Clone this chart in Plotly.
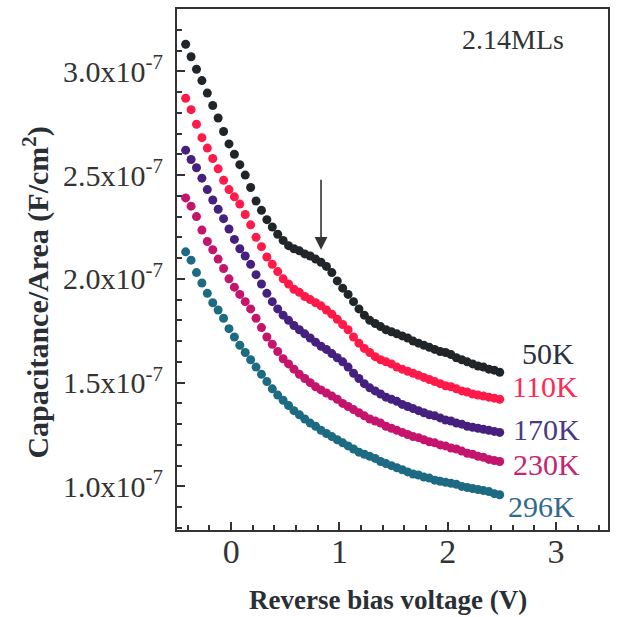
import plotly.graph_objects as go

# Reverse bias voltage (V)
voltage = [-0.42, -0.37, -0.32, -0.27, -0.22, -0.17, -0.12, -0.07, -0.02, 0.03,
           0.08, 0.13, 0.18, 0.23, 0.28, 0.33, 0.38, 0.43, 0.48, 0.53,
           0.58, 0.63, 0.68, 0.73, 0.78, 0.83, 0.88, 0.93, 0.98, 1.03,
           1.08, 1.13, 1.18, 1.23, 1.28, 1.33, 1.38, 1.43, 1.48, 1.53,
           1.58, 1.63, 1.68, 1.73, 1.78, 1.83, 1.88, 1.93, 1.98, 2.03,
           2.08, 2.13, 2.18, 2.23, 2.28, 2.33, 2.38, 2.43, 2.48]

# Capacitance/Area in units of 1e-7 F/cm^2
c_50K = [3.13, 3.07, 3.01, 2.955, 2.895, 2.835, 2.775, 2.71, 2.65, 2.60,
         2.55, 2.50, 2.44, 2.375, 2.33, 2.285, 2.25, 2.215, 2.185, 2.16,
         2.145, 2.135, 2.12, 2.11, 2.095, 2.08, 2.06, 2.03, 1.99, 1.955,
         1.925, 1.89, 1.855, 1.825, 1.80, 1.785, 1.77, 1.755, 1.745, 1.735,
         1.725, 1.715, 1.70, 1.69, 1.68, 1.67, 1.66, 1.65, 1.645, 1.635,
         1.62, 1.61, 1.60, 1.59, 1.58, 1.575, 1.565, 1.56, 1.55]
c_110K = [2.87, 2.815, 2.745, 2.68, 2.63, 2.58, 2.53, 2.475, 2.43, 2.395,
          2.36, 2.31, 2.26, 2.20, 2.155, 2.105, 2.07, 2.035, 2.00, 1.975,
          1.95, 1.935, 1.915, 1.90, 1.885, 1.87, 1.85, 1.83, 1.805, 1.78,
          1.755, 1.72, 1.69, 1.665, 1.645, 1.625, 1.61, 1.60, 1.59, 1.575,
          1.565, 1.555, 1.545, 1.535, 1.525, 1.515, 1.505, 1.495, 1.485, 1.48,
          1.47, 1.46, 1.455, 1.445, 1.44, 1.435, 1.43, 1.425, 1.42]
c_170K = [2.62, 2.575, 2.535, 2.485, 2.43, 2.38, 2.335, 2.29, 2.24, 2.19,
          2.145, 2.11, 2.07, 2.02, 1.975, 1.93, 1.89, 1.855, 1.825, 1.80,
          1.775, 1.755, 1.735, 1.715, 1.695, 1.675, 1.66, 1.64, 1.62, 1.60,
          1.575, 1.545, 1.52, 1.495, 1.475, 1.46, 1.445, 1.43, 1.42, 1.41,
          1.395, 1.385, 1.375, 1.365, 1.355, 1.345, 1.34, 1.33, 1.32, 1.315,
          1.305, 1.30, 1.29, 1.285, 1.28, 1.275, 1.27, 1.265, 1.26]
c_230K = [2.39, 2.35, 2.30, 2.235, 2.18, 2.14, 2.095, 2.05, 2.00, 1.96,
          1.925, 1.89, 1.855, 1.81, 1.765, 1.72, 1.685, 1.65, 1.615, 1.59,
          1.565, 1.54, 1.52, 1.50, 1.48, 1.465, 1.45, 1.435, 1.42, 1.40,
          1.385, 1.37, 1.355, 1.34, 1.325, 1.315, 1.305, 1.29, 1.28, 1.27,
          1.26, 1.25, 1.24, 1.235, 1.225, 1.215, 1.21, 1.20, 1.195, 1.185,
          1.18, 1.17, 1.16, 1.155, 1.145, 1.14, 1.13, 1.125, 1.12]
c_296K = [2.13, 2.09, 2.03, 1.98, 1.93, 1.885, 1.85, 1.81, 1.76, 1.72,
          1.68, 1.645, 1.61, 1.575, 1.54, 1.505, 1.47, 1.44, 1.415, 1.39,
          1.365, 1.345, 1.325, 1.305, 1.29, 1.27, 1.255, 1.24, 1.225, 1.21,
          1.195, 1.18, 1.165, 1.155, 1.145, 1.135, 1.12, 1.11, 1.10, 1.09,
          1.08, 1.07, 1.06, 1.055, 1.045, 1.04, 1.03, 1.025, 1.02, 1.015,
          1.01, 1.00, 0.995, 0.99, 0.985, 0.98, 0.975, 0.965, 0.96]

labels = ["50K", "110K", "170K", "230K", "296K"]
series = [c_50K, c_110K, c_170K, c_230K, c_296K]
marker_colors = ["#1f2529", "#ff1a4a", "#46207e", "#c5146c", "#1d6b82"]
label_colors = ["#2a3040", "#ff2a55", "#4a3a85", "#c42574", "#2f6b8c"]

y_tickvals = [1.0, 1.5, 2.0, 2.5, 3.0]
y_ticktext = ["1.0x10<sup>-7</sup>", "1.5x10<sup>-7</sup>", "2.0x10<sup>-7</sup>",
              "2.5x10<sup>-7</sup>", "3.0x10<sup>-7</sup>"]
x_tickvals = [0, 1, 2, 3]

FONT = "Liberation Serif, Times New Roman, serif"

fig = go.Figure()
for name, ys, col in zip(labels, series, marker_colors):
    fig.add_trace(go.Scatter(x=voltage, y=ys, mode="markers", name=name,
                             marker=dict(size=9, color=col, line=dict(width=0)),
                             showlegend=False))

# W = 433 px plot width, H = 523 px plot height
W, H, L, T = 433.0, 523.0, 177.0, 7.0
def px(xp): return (xp - L) / W
def py(yp): return 1 - (yp - T) / H

label_pos = [(550, 353), (547, 386), (548, 429), (548, 464), (543, 506)]
annotations = []
for name, col, (lx, ly) in zip(labels, label_colors, label_pos):
    annotations.append(dict(text=name, xref="paper", yref="paper", x=px(lx), y=py(ly),
                            xanchor="center", yanchor="middle", showarrow=False,
                            font=dict(family=FONT, size=30, color=col)))

annotations.append(dict(text="2.14MLs", xref="paper", yref="paper", x=px(515), y=py(38),
                        xanchor="center", yanchor="middle", showarrow=False,
                        font=dict(family=FONT, size=28, color="#333333")))

# arrow marking the shoulder in the 50K curve
annotations.append(dict(text="", x=0.83, y=2.14, xref="x", yref="y",
                        ax=0.83, ay=2.485, axref="x", ayref="y",
                        showarrow=True, arrowhead=2, arrowsize=1.6, arrowwidth=1.6,
                        arrowcolor="#333333"))

annotations.append(dict(text="<b>Reverse bias voltage (V)</b>", xref="paper", yref="paper",
                        x=px(389), y=py(600), xanchor="center", yanchor="middle",
                        showarrow=False, font=dict(family=FONT, size=27, color="#2a2f36")))
annotations.append(dict(text="<b>Capacitance/Area (F/cm<sup>2</sup>)</b>", xref="paper", yref="paper",
                        x=px(36), y=py(292), xanchor="center", yanchor="middle", textangle=-90,
                        showarrow=False, font=dict(family=FONT, size=30, color="#2a2f36")))

fig.update_layout(
    width=617, height=617,
    margin=dict(l=177, r=7, t=7, b=87),
    paper_bgcolor="white", plot_bgcolor="white",
    font=dict(family=FONT, color="#333333"),
    annotations=annotations,
    xaxis=dict(range=[-0.5, 3.48], tickmode="array", tickvals=x_tickvals,
               ticks="inside", ticklen=8, tickwidth=1.5, tickcolor="#333333",
               showline=True, linewidth=2, linecolor="#333333", mirror=True,
               showgrid=False, zeroline=False, ticklabelstandoff=-10,
               tickfont=dict(family=FONT, size=34, color="#333333"),
               minor=dict(tickmode="linear", tick0=0, dtick=0.2, ticks="inside",
                          ticklen=5, tickwidth=1.5, tickcolor="#333333", showgrid=False)),
    yaxis=dict(range=[0.79, 3.30], tickmode="array", tickvals=y_tickvals, ticktext=y_ticktext,
               ticks="inside", ticklen=8, tickwidth=1.5, tickcolor="#333333",
               showline=True, linewidth=2, linecolor="#333333", mirror=True,
               showgrid=False, zeroline=False, ticklabelstandoff=6,
               tickfont=dict(family=FONT, size=30, color="#333333"),
               minor=dict(tickmode="linear", tick0=0, dtick=0.1, ticks="inside",
                          ticklen=5, tickwidth=1.5, tickcolor="#333333", showgrid=False)),
)

fig.write_html("out.html")
